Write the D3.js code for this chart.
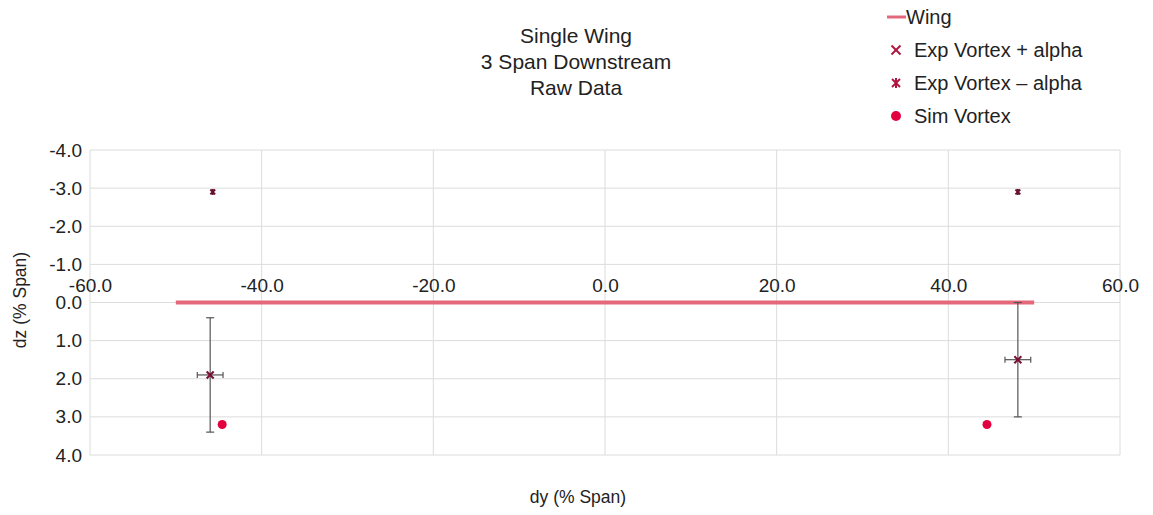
<!DOCTYPE html>
<html>
<head>
<meta charset="utf-8">
<script src="https://cdn.jsdelivr.net/npm/d3@7"></script>
<style>
  body { margin: 0; background: #fff; }
  svg { display: block; font-family: "Liberation Sans", Arial, sans-serif; }
</style>
</head>
<body>
<svg id="chart" width="1153" height="515"></svg>
<script>
// Wing trace along the dz = 0 line
const wingDy = [-50, 50];
const wingDz = [0, 0];

// Experimental vortex centres, positive alpha, with error extents
const expPlusDy = [-46.0, 48.1];
const expPlusDz = [1.9, 1.5];
const expPlusErrDy = [1.5, 1.5];
const expPlusErrDz = [1.5, 1.5];

// Experimental vortex centres, negative alpha
const expMinusDy = [-45.7, 48.1];
const expMinusDz = [-2.9, -2.9];

// Simulated vortex centres
const simDy = [-44.6, 44.5];
const simDz = [3.2, 3.2];

const xTicks = [-60, -40, -20, 0, 20, 40, 60];
const yTicks = [-4, -3, -2, -1, 0, 1, 2, 3, 4];
const titleLines = ["Single Wing", "3 Span Downstream", "Raw Data"];
const legendLabels = ["Wing", "Exp Vortex + alpha", "Exp Vortex \u2013 alpha", "Sim Vortex"];

const svg = d3.select("#chart");
const x = d3.scaleLinear().domain([-60, 60]).range([90, 1120]);
const y = d3.scaleLinear().domain([-4, 4]).range([150, 455]);

const grid = "#dcdcdc";
const wingColor = "#e4687a";
const markColor = "#b0163f";
const simColor = "#e2003f";
const errColor = "#555";
const fmt = d => d.toFixed(1); // plain hyphen for negatives

// Gridlines
svg.append("g").selectAll("line").data(yTicks).join("line")
  .attr("x1", x(-60)).attr("x2", x(60))
  .attr("y1", d => y(d)).attr("y2", d => y(d))
  .attr("stroke", grid).attr("stroke-width", 1);
svg.append("g").selectAll("line").data(xTicks).join("line")
  .attr("x1", d => x(d)).attr("x2", d => x(d))
  .attr("y1", y(-4)).attr("y2", y(4))
  .attr("stroke", grid).attr("stroke-width", 1);

// Y axis labels
const yAxis = d3.axisLeft(y).tickValues(yTicks).tickFormat(fmt).tickSize(0).tickPadding(8);
const gy = svg.append("g").attr("transform", `translate(${x(-60)},0)`).call(yAxis);
gy.select(".domain").remove();
gy.selectAll("text").attr("font-size", 19).attr("fill", "#222")
  .attr("font-family", "Liberation Sans, Arial, sans-serif");

// X axis labels above the dz = 0 line
const xAxis = d3.axisTop(x).tickValues(xTicks).tickFormat(fmt).tickSize(0).tickPadding(11);
const gx = svg.append("g").attr("transform", `translate(0,${y(0)})`).call(xAxis);
gx.select(".domain").remove();
gx.selectAll("text").attr("font-size", 19).attr("fill", "#222")
  .attr("font-family", "Liberation Sans, Arial, sans-serif");

// Wing
svg.append("path")
  .datum(wingDy.map((d, i) => [d, wingDz[i]]))
  .attr("d", d3.line().x(d => x(d[0])).y(d => y(d[1])))
  .attr("stroke", wingColor).attr("stroke-width", 4).attr("fill", "none");

// Error bars for the positive-alpha points
const cap = 3;
const err = svg.append("g").attr("stroke", errColor).attr("stroke-width", 1.2);
expPlusDy.forEach((dy, i) => {
  const dz = expPlusDz[i], ez = expPlusErrDz[i], ey = expPlusErrDy[i];
  err.append("line").attr("x1", x(dy)).attr("x2", x(dy)).attr("y1", y(dz - ez)).attr("y2", y(dz + ez));
  err.append("line").attr("x1", x(dy) - 4).attr("x2", x(dy) + 4).attr("y1", y(dz - ez)).attr("y2", y(dz - ez));
  err.append("line").attr("x1", x(dy) - 4).attr("x2", x(dy) + 4).attr("y1", y(dz + ez)).attr("y2", y(dz + ez));
  err.append("line").attr("x1", x(dy - ey)).attr("x2", x(dy + ey)).attr("y1", y(dz)).attr("y2", y(dz));
  err.append("line").attr("x1", x(dy - ey)).attr("x2", x(dy - ey)).attr("y1", y(dz) - cap).attr("y2", y(dz) + cap);
  err.append("line").attr("x1", x(dy + ey)).attr("x2", x(dy + ey)).attr("y1", y(dz) - cap).attr("y2", y(dz) + cap);
});

// Cross markers
function cross(g, cx, cy, r, color, w) {
  g.append("line").attr("x1", cx - r).attr("x2", cx + r).attr("y1", cy - r).attr("y2", cy + r)
    .attr("stroke", color).attr("stroke-width", w);
  g.append("line").attr("x1", cx - r).attr("x2", cx + r).attr("y1", cy + r).attr("y2", cy - r)
    .attr("stroke", color).attr("stroke-width", w);
}
function star(g, cx, cy, r, color, w) {
  cross(g, cx, cy, r * 0.8, color, w);
  g.append("line").attr("x1", cx).attr("x2", cx).attr("y1", cy - r).attr("y2", cy + r)
    .attr("stroke", color).attr("stroke-width", w);
}
const marks = svg.append("g");
expPlusDy.forEach((dy, i) => cross(marks, x(dy), y(expPlusDz[i]), 3.5, "#7a1030", 2));
expMinusDy.forEach((dy, i) => star(marks, x(dy), y(expMinusDz[i]), 3, "#6a1030", 2));

// Simulated vortices
svg.append("g").selectAll("circle").data(simDy.map((d, i) => [d, simDz[i]])).join("circle")
  .attr("cx", d => x(d[0])).attr("cy", d => y(d[1])).attr("r", 4.5).attr("fill", simColor);

// Title
svg.append("g").selectAll("text").data(titleLines).join("text")
  .attr("x", 576).attr("y", (d, i) => 43 + i * 26)
  .attr("text-anchor", "middle").attr("font-size", 21).attr("fill", "#222").text(d => d);

// Axis titles
svg.append("text").attr("x", 578).attr("y", 503).attr("text-anchor", "middle")
  .attr("font-size", 17.5).attr("fill", "#222").text("dy (% Span)");
svg.append("text").attr("transform", "translate(26,300) rotate(-90)").attr("text-anchor", "middle")
  .attr("font-size", 17.5).attr("fill", "#222").text("dz (% Span)");

// Legend
const lg = svg.append("g").attr("font-size", 20).attr("fill", "#222");
const rowY = [17, 50, 83, 116];
lg.append("line").attr("x1", 887).attr("x2", 906).attr("y1", rowY[0]).attr("y2", rowY[0])
  .attr("stroke", wingColor).attr("stroke-width", 3);
cross(lg, 896, rowY[1], 4.5, markColor, 2);
star(lg, 896, rowY[2], 5, markColor, 2);
lg.append("circle").attr("cx", 896).attr("cy", rowY[3]).attr("r", 5).attr("fill", simColor);
lg.selectAll("text").data(legendLabels).join("text")
  .attr("x", (d, i) => i === 0 ? 906 : 914).attr("y", (d, i) => rowY[i] + 7).text(d => d);
</script>
</body>
</html>
